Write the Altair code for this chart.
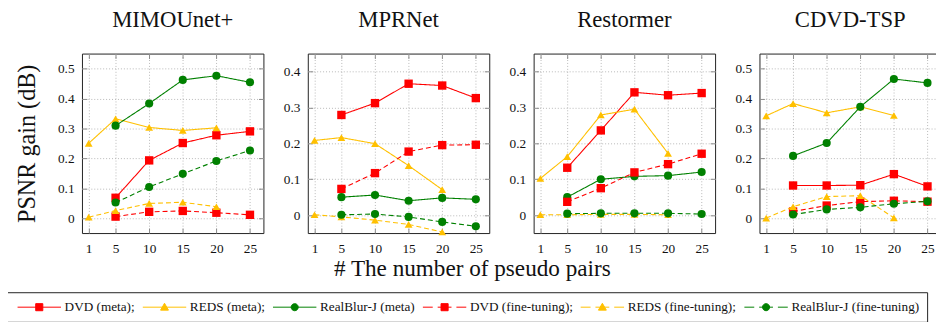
import altair as alt
import pandas as pd

FONT = "Liberation Serif"

MODELS = ["MIMOUnet+", "MPRNet", "Restormer", "CDVD-TSP"]
SERIES = ["DVD (meta);", "REDS (meta);", "RealBlur-J (meta)",
          "DVD (fine-tuning);", "REDS (fine-tuning);", "RealBlur-J (fine-tuning)"]
COLORS = ["#ff0000", "#ffc000", "#008000", "#ff0000", "#ffc000", "#008000"]
SHAPES = ["square", "triangle-up", "circle", "square", "triangle-up", "circle"]
MARK_SIZES = [72, 62, 68, 72, 62, 68]
DASHES = [[1, 0], [1, 0], [1, 0], [5, 3], [5, 3], [5, 3]]

X_DVD = [5, 10, 15, 20, 25]
X_REDS = [1, 5, 10, 15, 20]
X_RB = [5, 10, 15, 20, 25]
X_TICKS = [1, 5, 10, 15, 20, 25]

MIMO_DVD_META = [0.068, 0.193, 0.251, 0.277, 0.290]
MIMO_REDS_META = [0.250, 0.332, 0.303, 0.293, 0.302]
MIMO_RB_META = [0.309, 0.383, 0.462, 0.476, 0.454]
MIMO_DVD_FT = [0.005, 0.021, 0.024, 0.018, 0.011]
MIMO_REDS_FT = [0.003, 0.025, 0.049, 0.053, 0.038]
MIMO_RB_FT = [0.052, 0.104, 0.148, 0.191, 0.226]

MPR_DVD_META = [0.279, 0.312, 0.366, 0.361, 0.326]
MPR_REDS_META = [0.208, 0.216, 0.199, 0.138, 0.071]
MPR_RB_META = [0.050, 0.056, 0.040, 0.048, 0.044]
MPR_DVD_FT = [0.073, 0.117, 0.177, 0.195, 0.196]
MPR_REDS_FT = [0.001, -0.005, -0.014, -0.026, -0.047]
MPR_RB_FT = [0.001, 0.003, -0.005, -0.019, -0.031]

RES_DVD_META = [0.132, 0.236, 0.342, 0.334, 0.340]
RES_REDS_META = [0.102, 0.163, 0.279, 0.295, 0.172]
RES_RB_META = [0.050, 0.100, 0.108, 0.110, 0.120]
RES_DVD_FT = [0.037, 0.075, 0.119, 0.142, 0.171]
RES_REDS_FT = [0.001, 0.001, 0.002, 0.002, 0.001]
RES_RB_FT = [0.004, 0.005, 0.005, 0.005, 0.003]

CDVD_DVD_META = [0.109, 0.109, 0.110, 0.147, 0.106]
CDVD_REDS_META = [0.342, 0.383, 0.352, 0.372, 0.343]
CDVD_RB_META = [0.208, 0.251, 0.372, 0.465, 0.452]
CDVD_DVD_FT = [0.022, 0.042, 0.055, 0.058, 0.055]
CDVD_REDS_FT = [0.000, 0.038, 0.072, 0.075, 0.001]
CDVD_RB_FT = [0.012, 0.029, 0.036, 0.048, 0.056]

Y_DOMAINS = [[-0.05, 0.55], [-0.05, 0.45], [-0.05, 0.45], [-0.05, 0.55]]
Y_TICKS = [[0, 0.1, 0.2, 0.3, 0.4, 0.5], [0, 0.1, 0.2, 0.3, 0.4],
           [0, 0.1, 0.2, 0.3, 0.4], [0, 0.1, 0.2, 0.3, 0.4, 0.5]]

MODEL_VALUES = {
    "MIMOUnet+": [MIMO_DVD_META, MIMO_REDS_META, MIMO_RB_META, MIMO_DVD_FT, MIMO_REDS_FT, MIMO_RB_FT],
    "MPRNet": [MPR_DVD_META, MPR_REDS_META, MPR_RB_META, MPR_DVD_FT, MPR_REDS_FT, MPR_RB_FT],
    "Restormer": [RES_DVD_META, RES_REDS_META, RES_RB_META, RES_DVD_FT, RES_REDS_FT, RES_RB_FT],
    "CDVD-TSP": [CDVD_DVD_META, CDVD_REDS_META, CDVD_RB_META, CDVD_DVD_FT, CDVD_REDS_FT, CDVD_RB_FT],
}
SERIES_X = [X_DVD, X_REDS, X_RB, X_DVD, X_REDS, X_RB]

# legend symbols: line segment + marker, as custom symbol paths (unit = symbol radius)
SOLID = "M-1,0H10"
DASHED = "M-1,0H1.5M2.75,0H6.25M7.5,0H10"
SQ = "M3.6,-0.9H5.4V0.9H3.6Z"
TRI = "M4.5,-1L5.5,0.75H3.5Z"
CIR = "M3.6,0A0.9,0.9 0 1,0 5.4,0A0.9,0.9 0 1,0 3.6,0Z"
LEGEND_PATHS = [SOLID + SQ, SOLID + TRI, SOLID + CIR, DASHED + SQ, DASHED + TRI, DASHED + CIR]

color_scale = alt.Scale(domain=SERIES, range=COLORS)
shape_scale = alt.Scale(domain=SERIES, range=SHAPES)
dash_scale = alt.Scale(domain=SERIES, range=DASHES)

TICK_STYLE = dict(labels=False, domain=False, grid=False, ticks=True, tickSize=5,
                  tickColor="#8a8a8a", tickWidth=1, offset=-5, title=None)


def panel(idx, model):
    layers = []
    y_axis = alt.Axis(
        values=Y_TICKS[idx], format=".1~f", grid=True, gridDash=[1, 2],
        gridColor="#b0b0b0", gridWidth=0.9, ticks=False, domain=False,
        labelPadding=8, labelFontSize=13.5, labelColor="#111", labelFont=FONT,
        title="PSNR gain (dB)" if idx == 0 else None,
        titleFontSize=24.5, titleFont=FONT, titleFontWeight="normal",
        titleColor="#111", titlePadding=18, orient="left",
    )
    x_axis = alt.Axis(
        values=X_TICKS, grid=True, gridDash=[1, 2], gridColor="#b0b0b0",
        gridWidth=0.9, ticks=False, domain=False, labelPadding=9,
        labelFontSize=13.5, labelColor="#111", labelFont=FONT, title=None,
        labelFlush=False, labelOverlap=False, orient="bottom",
    )
    x_scale = alt.Scale(domain=[0, 27], nice=False, zero=False)
    y_scale = alt.Scale(domain=Y_DOMAINS[idx], nice=False, zero=False)
    for si, s in enumerate(SERIES):
        d = pd.DataFrame({"x": SERIES_X[si], "y": MODEL_VALUES[model][si], "series": s})
        base = alt.Chart(d)
        xa = x_axis if si == 0 else None
        ya = y_axis if si == 0 else None
        line = base.mark_line(strokeWidth=1.1).encode(
            x=alt.X("x:Q", scale=x_scale, axis=xa),
            y=alt.Y("y:Q", scale=y_scale, axis=ya),
            color=alt.Color("series:N", scale=color_scale, legend=None),
            strokeDash=alt.StrokeDash("series:N", scale=dash_scale, legend=None),
        )
        pts = base.mark_point(filled=True, opacity=1, size=MARK_SIZES[si]).encode(
            x=alt.X("x:Q", scale=x_scale, axis=None),
            y=alt.Y("y:Q", scale=y_scale, axis=None),
            color=alt.Color("series:N", scale=color_scale, legend=None),
            shape=alt.Shape("series:N", scale=shape_scale, legend=None),
        )
        layers += [line, pts]
    # inward tick marks on all four sides of the frame
    d0 = pd.DataFrame({"x": SERIES_X[0], "y": MODEL_VALUES[model][0]})
    ticks_bl = alt.Chart(d0).mark_point(opacity=0).encode(
        x=alt.X("x:Q", scale=x_scale, axis=alt.Axis(values=X_TICKS, orient="bottom", **TICK_STYLE)),
        y=alt.Y("y:Q", scale=y_scale, axis=alt.Axis(values=Y_TICKS[idx], orient="left", **TICK_STYLE)),
    )
    ticks_tr = alt.Chart(d0).mark_point(opacity=0).encode(
        x=alt.X("x:Q", scale=x_scale, axis=alt.Axis(values=X_TICKS, orient="top", **TICK_STYLE)),
        y=alt.Y("y:Q", scale=y_scale, axis=alt.Axis(values=Y_TICKS[idx], orient="right", **TICK_STYLE)),
    )
    layers += [ticks_bl, ticks_tr]
    return alt.layer(*layers).resolve_axis(x="independent", y="independent").properties(
        width=184, height=182,
        title=alt.TitleParams(text=model, fontSize=23, font=FONT, fontWeight="normal",
                              color="#111", baseline="alphabetic", offset=3, anchor="middle"),
    )


panels = alt.hconcat(*[panel(i, m) for i, m in enumerate(MODELS)], spacing=18).properties(
    title=alt.TitleParams(text="# The number of pseudo pairs", orient="bottom", anchor="middle",
                          fontSize=23.5, font=FONT, fontWeight="normal", color="#111",
                          baseline="alphabetic", offset=21, dx=-6)
)

legend = alt.Legend(
    title=None, orient="none", legendX=-76, legendY=0, direction="horizontal", columns=6,
    labelFont=FONT, labelFontSize=13.4, labelColor="#111", symbolSize=64,
    symbolStrokeWidth=1, labelOffset=37, columnPadding=5, padding=8,
    strokeColor="#222", fillColor="white", cornerRadius=0, symbolOpacity=1,
)
leg_df = pd.DataFrame({"series": SERIES})
legend_chart = alt.Chart(leg_df).mark_point(filled=True, opacity=0).encode(
    x=alt.value(0), y=alt.value(0),
    fill=alt.Fill("series:N", scale=alt.Scale(domain=SERIES, range=COLORS), legend=legend),
    stroke=alt.Stroke("series:N", scale=alt.Scale(domain=SERIES, range=COLORS), legend=legend),
    shape=alt.Shape("series:N", scale=alt.Scale(domain=SERIES, range=LEGEND_PATHS), legend=legend),
).properties(width=1, height=1, view=alt.ViewBackground(stroke="transparent"))

chart = alt.vconcat(panels, legend_chart, spacing=7).resolve_scale(
    shape="independent", color="independent", fill="independent", stroke="independent"
).properties(
    padding={"left": -2, "top": -1, "right": -6, "bottom": 0}
).configure(font=FONT, background="white").configure_view(stroke="#222", strokeWidth=1)

chart.save("out.html", embed_options={"renderer": "svg", "actions": False})
